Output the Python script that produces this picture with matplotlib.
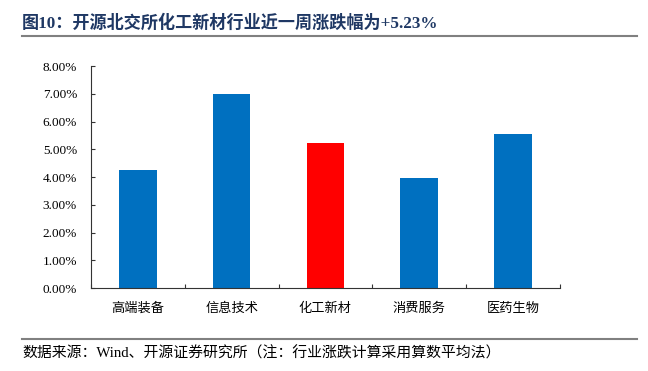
import numpy as np
import matplotlib.pyplot as plt
from matplotlib.lines import Line2D
from matplotlib.ticker import FuncFormatter

plt.rcParams['font.family'] = ['Noto Sans CJK SC', 'DejaVu Sans']
serif_cjk = ['Liberation Serif', 'Noto Sans CJK SC', 'DejaVu Sans']

#
# Data
#
categories = ["高端装备", "信息技术", "化工新材", "消费服务", "医药生物"]
changes = [4.27, 6.99, 5.23, 3.97, 5.55]
colors = ["#0070C0", "#0070C0", "#FF0000", "#0070C0", "#0070C0"]

title = "图10：开源北交所化工新材行业近一周涨跌幅为+5.23%"
source = "数据来源：Wind、开源证券研究所（注：行业涨跌计算采用算数平均法）"

#
# Plot
#
fig = plt.figure(figsize=(6.48, 3.71), dpi=100)
ax = fig.add_axes([0.1404, 0.2237, 0.7236, 0.5984])

x = np.arange(len(categories))
ax.bar(x, changes, width=0.4, color=colors)

ax.set_xlim(-0.5, len(categories) - 0.5)
ax.set_ylim(0, 8)
ax.set_yticks(np.arange(0, 9, 1))
ax.yaxis.set_major_formatter(FuncFormatter(lambda v, p: f"{v:.2f}%"))
ax.tick_params(axis="y", direction="in", length=3, width=0.8, labelsize=9.5,
               colors="#333333", labelcolor="black", pad=10,
               labelfontfamily=["Liberation Serif", "DejaVu Serif"])

ax.set_xticks(np.arange(-0.5, len(categories), 1))
ax.set_xticklabels([])
ax.set_xticks(x, minor=True)
ax.set_xticklabels(categories, minor=True, fontsize=9.5)
ax.tick_params(axis="x", which="major", direction="in", length=3, width=0.8,
               colors="#333333")
ax.tick_params(axis="x", which="minor", length=0, pad=10)

for side in ["top", "right"]:
    ax.spines[side].set_visible(False)
for side in ["left", "bottom"]:
    ax.spines[side].set_color("#333333")
    ax.spines[side].set_linewidth(0.8)

# title and source
fig.text(22 / 648, 1 - 23 / 371, title, fontsize=12.3, fontweight="bold",
         color="#1F3864", va="center", ha="left", family=serif_cjk)
fig.add_artist(Line2D([22 / 648, 637 / 648], [1 - 35.7 / 371] * 2,
                      color="#808080", lw=1.5, transform=fig.transFigure))
fig.add_artist(Line2D([22 / 648, 637 / 648], [1 - 338.7 / 371] * 2,
                      color="#808080", lw=1.5, transform=fig.transFigure))
fig.text(22 / 648, 1 - 353 / 371, source, fontsize=10.7, color="black",
         va="center", ha="left", family=serif_cjk)

plt.savefig("out.png", dpi=100)
